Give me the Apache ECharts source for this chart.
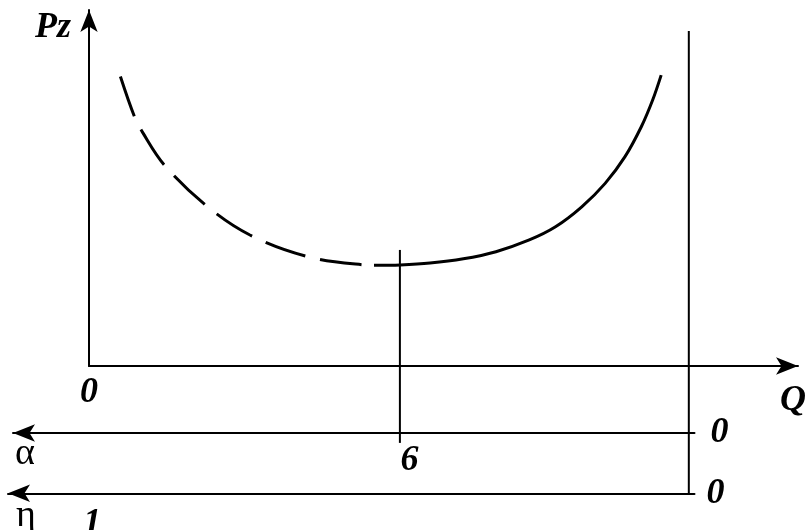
<!DOCTYPE html>
<html>
<head>
<meta charset="utf-8">
<script src="https://cdn.jsdelivr.net/npm/echarts@6/dist/echarts.min.js"></script>
<style>html,body{margin:0;padding:0;background:#fff;}#c{width:809px;height:530px;}</style>
</head>
<body>
<div id="c"></div>
<script>
// Curve Pz(Q): dashed (left) branch and solid (right) branch, [Q, Pz] in chart units
const dashedBranch = [
  [4.43, 81.3], [6.42, 70.0], [7.54, 65.7], [10.61, 56.5], [16.44, 45.2],
  [22.7, 36.8], [30.9, 30.7], [38.8, 28.4], [40.2, 28.3]
];
const solidBranch = [
  [40.2, 28.3], [43.9, 28.4], [48.1, 28.9], [52.8, 30.1], [57.4, 32.1],
  [62.1, 35.4], [65.8, 39.1], [69.5, 44.7], [72.8, 51.3], [75.6, 58.8],
  [77.9, 67.2], [79.5, 74.7], [80.7, 81.7]
];
// vertical guide lines [Q, Pz]
const optimumLine = [[43.85, 32.6], [43.85, -21.6]];
const limitLine = [[84.6, 94.1], [84.6, -36.0]];
// tick labels
const qTickLabel = 0;       // origin label on Q axis
const alphaTickLabel = 6;   // α value at the optimum
const etaTickLabel = 1;     // η value at the left
const axisNames = { pz: 'Pz', q: 'Q', alpha: 'α', eta: 'η', zero: '0' };

const serifBI = { fontFamily: 'Liberation Serif', fontWeight: 'bold', fontStyle: 'italic', fontSize: 36, color: '#000' };
const serifR = { fontFamily: 'Liberation Serif', fontSize: 38, color: '#000' };
const axisLineStyle = { color: '#000', width: 2 };

const chart = echarts.init(document.getElementById('c'), null, { renderer: 'canvas' });
chart.setOption({
  backgroundColor: '#fff',
  animation: false,
  grid: [
    { left: 89, top: 10, width: 716, height: 356 },
    { left: 13, right: 114.5, top: 432, height: 1 },
    { left: 8, right: 114.5, top: 493, height: 1 }
  ],
  xAxis: [
    {
      gridIndex: 0, type: 'value', min: 0, max: 100, interval: 100,
      axisLine: { show: true, onZero: false, lineStyle: axisLineStyle, symbol: ['none', 'arrow'], symbolSize: [13, 22], symbolOffset: [0, 0] },
      axisTick: { show: false }, splitLine: { show: false },
      axisLabel: { show: true, margin: 9, showMaxLabel: false, formatter: v => (v === qTickLabel ? String(qTickLabel) : ''), ...serifBI },
      name: axisNames.q, nameLocation: 'end', nameGap: -18,
      nameTextStyle: { ...serifBI, verticalAlign: 'top', padding: [17, 0, 0, 0] }
    },
    {
      gridIndex: 1, type: 'value', min: 0, max: 14, interval: 1, inverse: true, position: 'bottom',
      axisLine: { show: true, onZero: false, lineStyle: axisLineStyle, symbol: ['arrow', 'none'], symbolSize: [13, 22], symbolOffset: [0, 0] },
      axisTick: { show: false }, splitLine: { show: false },
      axisLabel: { show: true, margin: 10, showMinLabel: true, showMaxLabel: false, formatter: v => (v === alphaTickLabel ? String(alphaTickLabel) : ''), ...serifBI, padding: [0, 0, 0, 14] },
      name: axisNames.zero, nameLocation: 'start', nameGap: 16,
      nameTextStyle: { ...serifBI, padding: [0, 0, 7, 0] }
    },
    {
      gridIndex: 2, type: 'value', min: 0, max: 1.14, interval: 1, inverse: true, position: 'bottom',
      axisLine: { show: true, onZero: false, lineStyle: axisLineStyle, symbol: ['arrow', 'none'], symbolSize: [13, 22], symbolOffset: [0, 0] },
      axisTick: { show: false }, splitLine: { show: false },
      axisLabel: { show: true, margin: 12, showMaxLabel: false, formatter: v => (v === etaTickLabel ? String(etaTickLabel) : ''), ...serifBI },
      name: axisNames.zero, nameLocation: 'start', nameGap: 12,
      nameTextStyle: { ...serifBI }
    }
  ],
  yAxis: [
    {
      gridIndex: 0, type: 'value', min: 0, max: 100, interval: 100,
      axisLine: { show: true, onZero: false, lineStyle: axisLineStyle, symbol: ['none', 'arrow'], symbolSize: [13, 22], symbolOffset: [0, 0] },
      axisTick: { show: false }, splitLine: { show: false }, axisLabel: { show: false },
      name: axisNames.pz, nameLocation: 'end', nameGap: 0,
      nameTextStyle: { ...serifBI, align: 'right', verticalAlign: 'top', padding: [0, 18, 0, 0] }
    },
    {
      gridIndex: 1, type: 'value', min: 0, max: 1, position: 'left',
      axisLine: { show: false, onZero: false }, axisTick: { show: false }, splitLine: { show: false }, axisLabel: { show: false },
      name: axisNames.alpha, nameLocation: 'start', nameGap: 2,
      nameTextStyle: { ...serifR, align: 'left', verticalAlign: 'top', padding: [0, 0, 0, 2] }
    },
    {
      gridIndex: 2, type: 'value', min: 0, max: 1, position: 'left',
      axisLine: { show: false, onZero: false }, axisTick: { show: false }, splitLine: { show: false }, axisLabel: { show: false },
      name: axisNames.eta, nameLocation: 'start', nameGap: 4,
      nameTextStyle: { ...serifR, align: 'left', verticalAlign: 'top', padding: [0, 0, 0, 8] }
    }
  ],
  series: [
    {
      type: 'line', xAxisIndex: 0, yAxisIndex: 0, data: dashedBranch, smooth: 0.35, symbol: 'none',
      lineStyle: { color: '#000', width: 3, type: [42, 15] }
    },
    {
      type: 'line', xAxisIndex: 0, yAxisIndex: 0, data: solidBranch, smooth: 0.35, symbol: 'none',
      lineStyle: { color: '#000', width: 3 }
    },
    {
      type: 'line', xAxisIndex: 0, yAxisIndex: 0, data: optimumLine, symbol: 'none', clip: false,
      lineStyle: { color: '#000', width: 2 }
    },
    {
      type: 'line', xAxisIndex: 0, yAxisIndex: 0, data: limitLine, symbol: 'none', clip: false,
      lineStyle: { color: '#000', width: 2 }
    }
  ]
});
</script>
</body>
</html>
